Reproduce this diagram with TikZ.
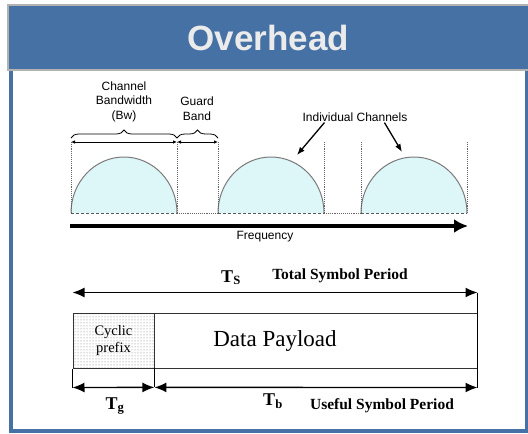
\documentclass[tikz,border=0pt]{standalone}
\usepackage{fontspec}
\setmainfont{Liberation Serif}
\setsansfont{Liberation Sans}
\usetikzlibrary{positioning, arrows.meta, calc, decorations.pathreplacing, patterns}
\definecolor{titleBlue}{HTML}{4571A5}
\definecolor{titleText}{HTML}{EBEBEB}
\definecolor{channelFill}{HTML}{DDF6F8}
\definecolor{channelLine}{HTML}{7A7A7A}
\tikzstyle{channel}=[draw=channelLine, fill=channelFill, line width=1pt]
\tikzstyle{guide}=[densely dotted, line width=0.9pt, color=gray!80!black]
\tikzstyle{baseDash}=[densely dashed, line width=0.8pt, color=gray!70!black]
\tikzstyle{bandArrow}=[{Latex[length=4pt,width=3.5pt]}-{Latex[length=4pt,width=3.5pt]}, line width=0.8pt]
\tikzstyle{bandBrace}=[decorate, decoration={brace, amplitude=8pt, raise=4pt}, line width=0.8pt]
\tikzstyle{sansLabel}=[font=\sffamily\fontsize{12}{14.5}\selectfont, align=center, inner sep=0pt]
\tikzstyle{serifBold}=[font=\bfseries\fontsize{15.5}{18}\selectfont, inner sep=0pt]
\tikzstyle{periodArrow}=[{Latex[length=12pt,width=10pt]}-{Latex[length=12pt,width=10pt]}, line width=1.4pt]
\tikzstyle{pointer}=[-{Latex[length=8pt,width=6pt]}, line width=1.3pt]

\begin{document}
\begin{tikzpicture}[x=1pt, y=-1pt]
\useasboundingbox (0,0) rectangle (528,434);

% title bar and frame
\node (title) [fill=titleBlue, draw=gray!60, line width=1.5pt, minimum width=521pt, minimum height=65pt, inner sep=0pt, text=titleText, font=\sffamily\bfseries\fontsize{35}{40}\selectfont] at (268.5,37.5) {Overhead};
\draw[titleBlue, line width=4pt] (11,71) -- (11,431) -- (527,431) -- (527,71);

% channels
\foreach \ch/\lx in {chOne/71, chTwo/218, chThree/361}{
	\draw[channel] (\lx,213) coordinate (\ch-l) arc[start angle=180, end angle=0, x radius=53pt, y radius=56pt] coordinate (\ch-r);
	\draw[guide] (\ch-l) -- ++(0,-71) coordinate (\ch-lt);
	\draw[guide] (\ch-r) -- ++(0,-71) coordinate (\ch-rt);
	\draw[baseDash] (\ch-l) -- (\ch-r);
}
\draw[guide] (chOne-r) -- (chTwo-l);
\draw[guide] (chTwo-r) -- (chThree-l);

\draw[bandArrow] (chOne-lt) -- (chOne-rt);
\draw[bandArrow] (chOne-rt) -- (chTwo-lt);

%braces
\draw[bandBrace] (chOne-lt) -- (chOne-rt);
\draw[bandBrace] (chOne-rt) -- (chTwo-lt);

\node (bwLabel) [sansLabel] at (124,101.5) {Channel\\Bandwidth\\(Bw)};
\node (guardLabel) [sansLabel] at (197,108.5) {Guard\\Band};
\node (chanLabel) [sansLabel] at (355,117) {Individual Channels};

\coordinate (tipTwo) at (297,155);
\coordinate (tipThree) at (402,152);
\draw[pointer] ($(chanLabel.south west)+(22,1)$) -- (tipTwo);
\draw[pointer] ($(chanLabel.south west)+(82,1)$) -- (tipThree);

% frequency axis
\coordinate (axisStart) at (70,226);
\coordinate (axisEnd) at (468,226);
\draw[-{Latex[length=14pt,width=14pt]}, line width=4pt] (axisStart) -- (axisEnd);
\node (freqLabel) [sansLabel] at (265,237) {Frequency};

% symbol
\node (symbol) [draw=black!80, line width=1pt, minimum width=404pt, minimum height=55pt, inner sep=0pt, font=\fontsize{23}{26}\selectfont] at (275,340.5) {Data Payload};
\node (prefix) [draw=black!80, line width=0.8pt, pattern=dots, pattern color=black!55, minimum width=81pt, minimum height=55pt, inner sep=0pt, align=center, font=\fontsize{14.5}{17}\selectfont] at (113.5,340.5) {Cyclic\\prefix};

\coordinate (tsStart) at ($(symbol.north west)+(0,-20)$);
\coordinate (tsEnd) at ($(symbol.north east)+(0,-20)$);
\coordinate (tgStart) at ($(symbol.south west)+(0,19)$);
\coordinate (tgEnd) at ($(prefix.south east)+(0,19)$);
\coordinate (tbEnd) at ($(symbol.south east)+(0,19)$);

\draw[line width=1pt] (symbol.south west) -- (tgStart);
\draw[line width=1pt] (prefix.south east) -- (tgEnd);
\draw[line width=1pt] (tsEnd) -- (tbEnd);

\draw[periodArrow] (tsStart) -- (tsEnd);
\draw[periodArrow] (tgStart) -- (tgEnd);
\draw[periodArrow] (tgEnd) -- (tbEnd);

\node (tsLabel) [serifBold] at (231,277.5) {\fontsize{18}{20}\selectfont T\textsubscript{S}};
\node (totalLabel) [serifBold] at (340,275.5) {Total Symbol Period};
\node (tgLabel) [serifBold] at (115,406) {\fontsize{18}{20}\selectfont T\textsubscript{g}};
\node (tbLabel) [serifBold] at (273,401) {\fontsize{18}{20}\selectfont T\textsubscript{b}};
\node (usefulLabel) [serifBold] at (382,406) {Useful Symbol Period};
\end{tikzpicture}
\end{document}
